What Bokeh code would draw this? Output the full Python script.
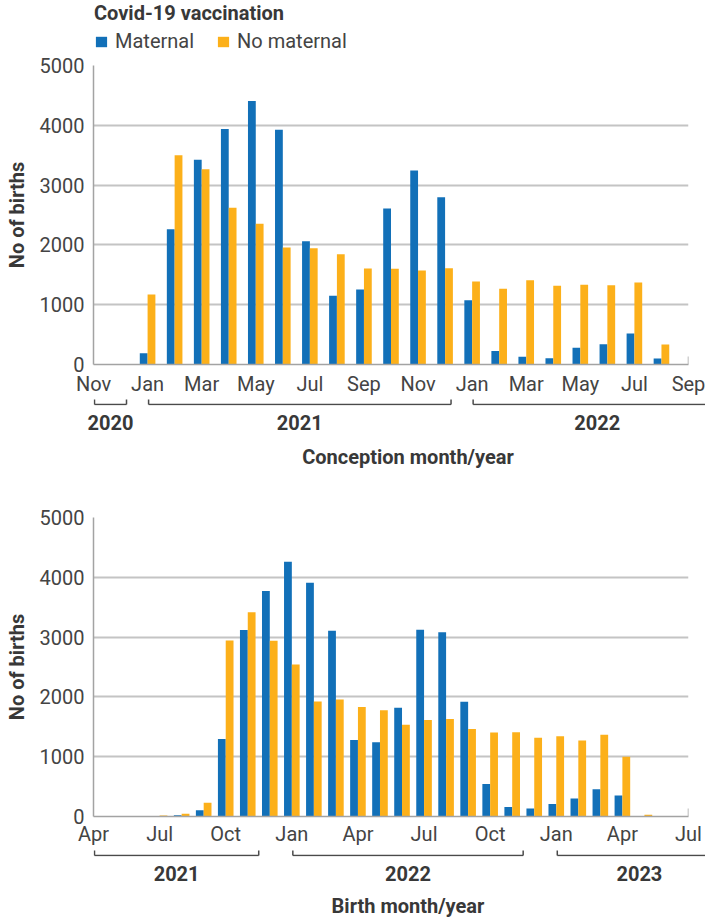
from bokeh.plotting import figure
from bokeh.models import (ColumnDataSource, FixedTicker, Range1d, Arrow,
                          Legend, LegendItem)
from bokeh.transform import dodge
from bokeh.layouts import column
from bokeh.embed import file_html
from bokeh.resources import INLINE

# ---------------- data ----------------
conception_months = ["Nov 2020", "Dec 2020",
                     "Jan 2021", "Feb 2021", "Mar 2021", "Apr 2021", "May 2021", "Jun 2021",
                     "Jul 2021", "Aug 2021", "Sep 2021", "Oct 2021", "Nov 2021", "Dec 2021",
                     "Jan 2022", "Feb 2022", "Mar 2022", "Apr 2022", "May 2022", "Jun 2022",
                     "Jul 2022", "Aug 2022", "Sep 2022"]
conception_maternal = [0, 0,
                       190, 2260, 3425, 3940, 4405, 3925, 2060, 1150, 1255, 2610, 3245, 2795,
                       1075, 225, 130, 105, 280, 340, 520, 100,
                       0]
conception_no_maternal = [0, 0,
                          1170, 3500, 3265, 2620, 2355, 1955, 1945, 1845, 1605, 1600, 1570, 1610,
                          1390, 1265, 1410, 1315, 1335, 1325, 1370, 335,
                          0]
conception_tick_labels = ["Nov", "Jan", "Mar", "May", "Jul", "Sep",
                          "Nov", "Jan", "Mar", "May", "Jul", "Sep"]

birth_months = ["Apr 2021", "May 2021", "Jun 2021", "Jul 2021", "Aug 2021", "Sep 2021",
                "Oct 2021", "Nov 2021", "Dec 2021",
                "Jan 2022", "Feb 2022", "Mar 2022", "Apr 2022", "May 2022", "Jun 2022",
                "Jul 2022", "Aug 2022", "Sep 2022", "Oct 2022", "Nov 2022", "Dec 2022",
                "Jan 2023", "Feb 2023", "Mar 2023", "Apr 2023", "May 2023", "Jun 2023",
                "Jul 2023"]
birth_maternal = [0, 0, 0, 8, 22, 105, 1295, 3120, 3770,
                  4260, 3910, 3105, 1280, 1240, 1820, 3125, 3080, 1920, 545, 160, 135,
                  210, 300, 455, 350, 10, 0, 0]
birth_no_maternal = [0, 0, 0, 15, 45, 230, 2945, 3415, 2940,
                     2540, 1925, 1955, 1830, 1775, 1535, 1615, 1630, 1465, 1405, 1410, 1315,
                     1340, 1270, 1365, 1000, 28, 0, 0]
birth_tick_labels = ["Apr", "Jul", "Oct", "Jan", "Apr", "Jul", "Oct", "Jan", "Apr", "Jul"]

y_ticks = [0, 1000, 2000, 3000, 4000, 5000]
series_names = ["Maternal", "No maternal"]
legend_title = "Covid-19 vaccination"
y_title = "No of births"

# ---------------- style ----------------
BLUE = "#1270b8"
ORANGE = "#fcb01a"
DARK = "#383838"
TICK = "#444444"
AXIS = "#a3a3a3"
GRID = "#c4c4c4"
BRACKET = "#4a4a4a"
FONT = "Roboto"
W = 705
FW = 595          # plot frame width (px)
FL = 93           # plot frame left (px)
YMAX = y_ticks[-1]


def style_text_axis(ax):
    ax.major_label_text_font = FONT
    ax.major_label_text_font_size = "20px"
    ax.major_label_text_color = TICK
    ax.major_tick_in = 0
    ax.major_tick_out = 0
    ax.minor_tick_in = 0
    ax.minor_tick_out = 0
    ax.axis_label_text_font = FONT
    ax.axis_label_text_font_size = "20px"
    ax.axis_label_text_font_style = "bold"
    ax.axis_label_text_color = DARK


def bare(fig):
    fig.outline_line_color = None
    fig.xgrid.grid_line_color = None
    fig.ygrid.grid_line_color = None


def chart(src, n, tick_step, tick_labels, mb_top, frame_h, mb_bottom, lab_standoff):
    xspan = n - 1
    upx = xspan / FW
    vpx = YMAX / frame_h
    p = figure(frame_width=FW, frame_height=frame_h,
               min_border_left=FL, min_border_right=W - FL - FW,
               min_border_top=mb_top, min_border_bottom=mb_bottom,
               x_range=Range1d(0, xspan), y_range=Range1d(0, YMAX),
               output_backend="svg", toolbar_location=None, tools="")
    p.outline_line_color = None
    bw = 7.8 * upx
    p.vbar(x=dodge("idx", -bw / 2, range=p.x_range), top="maternal", width=bw,
           source=src, fill_color=BLUE, line_color=None)
    p.vbar(x=dodge("idx", bw / 2, range=p.x_range), top="no_maternal", width=bw,
           source=src, fill_color=ORANGE, line_color=None)

    ya = p.yaxis[0]
    style_text_axis(ya)
    ya.ticker = FixedTicker(ticks=y_ticks)
    ya.axis_label = y_title
    ya.axis_label_text_line_height = 1.0
    ya.axis_label_standoff = 8
    ya.major_label_standoff = 9
    ya.axis_line_color = AXIS
    ya.axis_line_width = 1.5

    ticks = list(range(0, n, tick_step))
    xa = p.xaxis[0]
    style_text_axis(xa)
    xa.ticker = FixedTicker(ticks=ticks)
    xa.major_label_overrides = {t: lab for t, lab in zip(ticks, tick_labels)}
    xa.major_label_standoff = lab_standoff
    xa.axis_line_color = AXIS
    xa.axis_line_width = 1.5

    p.xgrid.grid_line_color = None
    p.ygrid.grid_line_color = GRID
    p.ygrid.grid_line_width = 1.8

    # small end tick at the right of the x axis
    p.add_layout(Arrow(end=None, x_start=xspan, y_start=0, x_end=xspan, y_end=8 * vpx,
                       line_color=AXIS, line_width=1.5))
    return p, ticks


def year_strip(months, ticks, xlabel, frame_h, y_line, y_tick, lab_standoff,
               axlab_standoff, mb_bottom):
    """Strip under a chart, sharing its x mapping: year brackets, years, axis title."""
    n = len(months)
    upx = (n - 1) / FW
    left = 76
    fw = W - left
    s = figure(frame_width=fw, frame_height=frame_h,
               min_border_left=left, min_border_right=0,
               min_border_top=0, min_border_bottom=mb_bottom,
               x_range=Range1d((left - FL) * upx, (W - FL) * upx),
               y_range=Range1d(0, frame_h), y_axis_location=None,
               output_backend="svg", toolbar_location=None, tools="")
    bare(s)

    groups = []
    for t in ticks:
        yr = months[t].split()[1]
        if groups and groups[-1][0] == yr:
            groups[-1][1].append(t)
        else:
            groups.append((yr, [t]))
    ext = 16 * upx
    x0s, x1s, y0s, y1s = [], [], [], []
    centers, names = [], []
    for yr, ts in groups:
        a, b = ts[0] - ext, ts[-1] + ext
        x0s += [a, a, b]
        x1s += [b, a, b]
        y0s += [y_line, y_line, y_line]
        y1s += [y_line, y_tick, y_tick]
        c = (ts[0] + ts[-1]) / 2
        centers.append(int(c) if float(c).is_integer() else c)
        names.append(yr)
    s.segment(x0=x0s, y0=y0s, x1=x1s, y1=y1s, line_color=BRACKET, line_width=1.5)

    xa = s.xaxis[0]
    style_text_axis(xa)
    xa.ticker = FixedTicker(ticks=centers)
    xa.major_label_overrides = {c: nm for c, nm in zip(centers, names)}
    xa.major_label_text_font_style = "bold"
    xa.major_label_text_color = DARK
    xa.major_label_standoff = lab_standoff
    xa.axis_line_color = None
    xa.axis_label = xlabel
    xa.axis_label_standoff = axlab_standoff
    return s


src1 = ColumnDataSource(dict(idx=list(range(len(conception_months))),
                             maternal=conception_maternal,
                             no_maternal=conception_no_maternal,
                             month=conception_months))
src2 = ColumnDataSource(dict(idx=list(range(len(birth_months))),
                             maternal=birth_maternal,
                             no_maternal=birth_no_maternal,
                             month=birth_months))

# ---- header: legend with its title (keys drawn from the series renderers) ----
HH = 53
hdr = figure(frame_width=W, frame_height=HH, min_border=0,
             x_range=Range1d(0, W), y_range=Range1d(-HH, 0),
             x_axis_location=None, y_axis_location=None,
             output_backend="svg", toolbar_location=None, tools="")
bare(hdr)
k1 = hdr.vbar(x="idx", top="maternal", width=0.3, source=src1,
              fill_color=BLUE, line_color=None)
k2 = hdr.vbar(x="idx", top="no_maternal", width=0.3, source=src1,
              fill_color=ORANGE, line_color=None)
leg = Legend(items=[LegendItem(label=series_names[0], renderers=[k1]),
                    LegendItem(label=series_names[1], renderers=[k2])],
             title=legend_title, title_text_font=FONT, title_text_font_size="20px",
             title_text_font_style="bold", title_text_color=DARK, title_standoff=4,
             location=(94, 0), orientation="horizontal",
             glyph_width=14, glyph_height=13,
             label_standoff=7, spacing=22, padding=0, margin=0,
             border_line_color=None, background_fill_alpha=0,
             label_text_font=FONT, label_text_font_size="20px", label_text_color=TICK)
hdr.add_layout(leg)

# ---- top chart (conception) ----
p1, t1 = chart(src1, len(conception_months), 2, conception_tick_labels,
               mb_top=12, frame_h=299, mb_bottom=34, lab_standoff=7)
s1 = year_strip(conception_months, t1, "Conception month/year", frame_h=7,
                y_line=1, y_tick=6, lab_standoff=9, axlab_standoff=12, mb_bottom=72)

# ---- bottom chart (birth) ----
p2, t2 = chart(src2, len(birth_months), 3, birth_tick_labels,
               mb_top=40, frame_h=299, mb_bottom=33, lab_standoff=5)
s2 = year_strip(birth_months, t2, "Birth month/year", frame_h=7,
                y_line=1, y_tick=6, lab_standoff=9, axlab_standoff=10, mb_bottom=66)

layout = column(hdr, p1, s1, p2, s2, spacing=0)
open("out.html", "w").write(file_html(layout, INLINE, "Births by vaccination"))
